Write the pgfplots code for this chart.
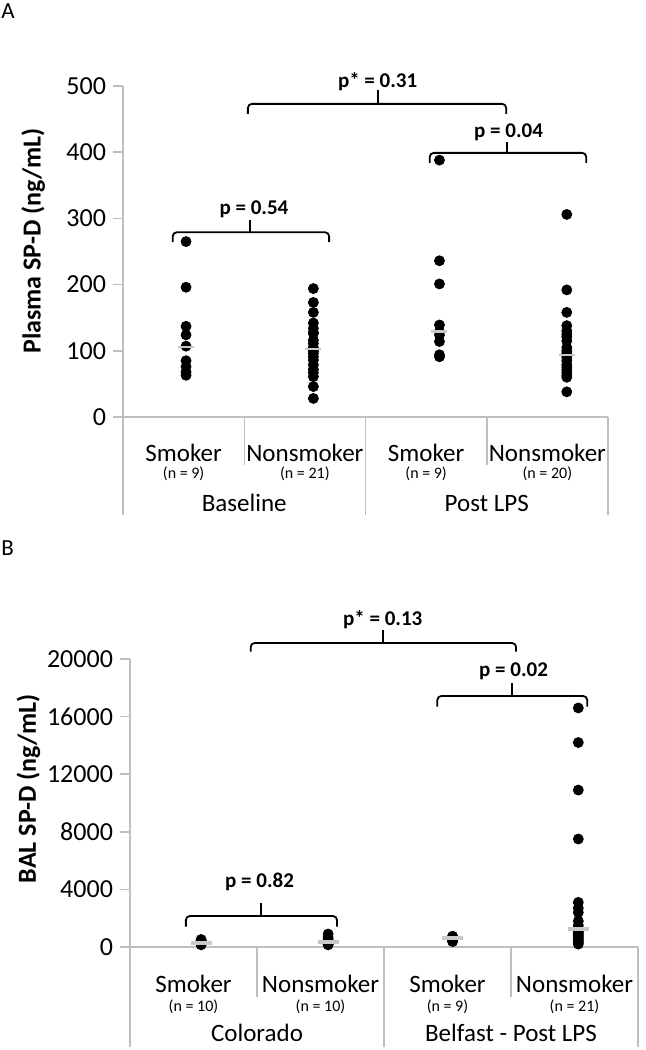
\documentclass[border=0pt]{standalone}
\usepackage{fontspec}
\setmainfont{Carlito}
\usepackage{pgfplots}
\pgfplotsset{compat=1.18}
\definecolor{axgray}{RGB}{191,191,191}
\definecolor{medgray}{RGB}{200,200,200}
\pgfplotsset{
  panel/.style={
    scale only axis, clip=false,
    axis x line=none, axis y line*=left,
    y axis line style={axgray, line width=0.75pt},
    xtick=\empty,
    tick style={axgray, line width=0.75pt},
    major tick length=5pt, tick align=outside,
    yticklabel style={font=\fontsize{13}{15}\selectfont, text=black},
    /pgf/number format/assume math mode=true,
    scaled y ticks=false,
    /pgf/number format/1000 sep={},
  },
  dots/.style={only marks, mark=*, mark size=2.5pt, black},
}
\newcommand{\catfont}{\fontsize{12.5}{14}\selectfont}
\newcommand{\nfont}{\fontsize{8}{9}\selectfont}
\newcommand{\pfont}{\bfseries\fontsize{10.5}{12}\selectfont}
\begin{document}
\begin{tikzpicture}
\useasboundingbox (0pt,0pt) rectangle (323pt,525pt);
\node[anchor=north west, inner sep=0pt, font=\fontsize{11.5}{13}\selectfont] at (0.5pt,523.5pt) {A};
\node[anchor=north west, inner sep=0pt, font=\fontsize{11.5}{13}\selectfont] at (0.5pt,255pt) {B};

% ---------------- Panel A ----------------
\begin{axis}[panel,
  at={(61.5pt,316.5pt)}, anchor=south west,
  width=242.5pt, height=165.5pt,
  xmin=0, xmax=4, ymin=0, ymax=500,
  ytick={0,100,...,500},
]
\draw[axgray, line width=0.75pt] (axis cs:0,0) -- (axis cs:4,0);
\draw[axgray, line width=0.75pt] (axis cs:0,0) -- (axis cs:0,-148);
\draw[axgray, line width=0.75pt] (axis cs:1,0) -- (axis cs:1,-72.5);
\draw[axgray, line width=0.75pt] (axis cs:2,0) -- (axis cs:2,-148);
\draw[axgray, line width=0.75pt] (axis cs:3,0) -- (axis cs:3,-72.5);
\draw[axgray, line width=0.75pt] (axis cs:4,0) -- (axis cs:4,-148);

\node[font=\catfont] at (axis cs:0.5,-54) {Smoker};
\node[font=\catfont] at (axis cs:1.5,-54) {Nonsmoker};
\node[font=\catfont] at (axis cs:2.5,-54) {Smoker};
\node[font=\catfont] at (axis cs:3.5,-54) {Nonsmoker};
\node[font=\nfont] at (axis cs:0.5,-85) {(n = 9)};
\node[font=\nfont] at (axis cs:1.5,-85) {(n = 21)};
\node[font=\nfont] at (axis cs:2.5,-85) {(n = 9)};
\node[font=\nfont] at (axis cs:3.5,-85) {(n = 20)};
\node[font=\catfont] at (axis cs:1,-130) {Baseline};
\node[font=\catfont] at (axis cs:3,-130) {Post LPS};

\node[rotate=90, font=\bfseries\fontsize{13}{15}\selectfont] at (axis cs:-0.74,266) {Plasma SP-D (ng/mL)};

\addplot[dots] coordinates {(0.52,265)(0.52,196)(0.52,137)(0.52,124)(0.52,107)(0.52,85)(0.52,76)(0.52,68)(0.52,63)};
\addplot[dots] coordinates {(1.57,194)(1.57,173)(1.57,158)(1.57,142)(1.57,134)(1.57,128)(1.57,126)(1.57,116)(1.57,111)(1.57,105)(1.57,103)(1.57,99)(1.57,96)(1.57,91)(1.57,86)(1.57,79)(1.57,72)(1.57,67)(1.57,61)(1.57,46)(1.57,28)};
\addplot[dots] coordinates {(2.61,388)(2.61,236)(2.61,201)(2.61,139)(2.61,129)(2.61,124)(2.61,114)(2.61,94)(2.61,91)};
\addplot[dots] coordinates {(3.66,306)(3.66,192)(3.66,158)(3.66,138)(3.66,130)(3.66,125)(3.66,121)(3.66,115)(3.66,105)(3.66,100)(3.66,96)(3.66,90)(3.66,85)(3.66,79)(3.66,75)(3.66,71)(3.66,67)(3.66,63)(3.66,60)(3.66,38)};
\addplot[only marks, mark=-, mark size=4pt, mark options={medgray, line width=1.2pt}] coordinates {(0.52,106)(1.57,103)(2.61,129)(3.66,94)};

\draw[line width=0.9pt, rounded corners=2pt] (axis cs:0.41,264) |- (axis cs:1.05,279) -| (axis cs:1.70,264);
\draw[line width=0.9pt] (axis cs:1.05,279) -- (axis cs:1.05,298);
\node[font=\pfont] at (axis cs:1.08,314) {p = 0.54};

\draw[line width=0.9pt, rounded corners=2pt] (axis cs:2.53,384) |- (axis cs:3.17,399) -| (axis cs:3.82,384);
\draw[line width=0.9pt] (axis cs:3.17,399) -- (axis cs:3.17,415);
\node[font=\pfont] at (axis cs:3.18,430) {p = 0.04};

\draw[line width=0.9pt, rounded corners=2pt] (axis cs:1.03,458) |- (axis cs:2.10,473) -| (axis cs:3.16,458);
\draw[line width=0.9pt] (axis cs:2.10,473) -- (axis cs:2.10,494);
\node[font=\pfont] at (axis cs:2.10,507) {p* = 0.31};
\end{axis}

% ---------------- Panel B ----------------
\begin{axis}[panel,
  at={(65pt,51.5pt)}, anchor=south west,
  width=254pt, height=144pt,
  xmin=0, xmax=4, ymin=0, ymax=20000,
  ytick={0,4000,...,20000},
]
\draw[axgray, line width=0.75pt] (axis cs:0,0) -- (axis cs:4,0);
\draw[axgray, line width=0.75pt] (axis cs:0,0) -- (axis cs:0,-6920);
\draw[axgray, line width=0.75pt] (axis cs:1,0) -- (axis cs:1,-3440);
\draw[axgray, line width=0.75pt] (axis cs:2,0) -- (axis cs:2,-6920);
\draw[axgray, line width=0.75pt] (axis cs:3,0) -- (axis cs:3,-3440);
\draw[axgray, line width=0.75pt] (axis cs:4,0) -- (axis cs:4,-6920);

\node[font=\catfont] at (axis cs:0.5,-2560) {Smoker};
\node[font=\catfont] at (axis cs:1.5,-2560) {Nonsmoker};
\node[font=\catfont] at (axis cs:2.5,-2560) {Smoker};
\node[font=\catfont] at (axis cs:3.5,-2560) {Nonsmoker};
\node[font=\nfont] at (axis cs:0.5,-4130) {(n = 10)};
\node[font=\nfont] at (axis cs:1.5,-4130) {(n = 10)};
\node[font=\nfont] at (axis cs:2.5,-4130) {(n = 9)};
\node[font=\nfont] at (axis cs:3.5,-4130) {(n = 21)};
\node[font=\catfont] at (axis cs:1,-5950) {Colorado};
\node[font=\catfont] at (axis cs:3,-5950) {Belfast - Post LPS};

\node[rotate=90, font=\bfseries\fontsize{13}{15}\selectfont] at (axis cs:-0.80,11000) {BAL SP-D (ng/mL)};

\addplot[dots] coordinates {(0.56,520)(0.56,450)(0.56,400)(0.56,350)(0.56,310)(0.56,280)(0.56,250)(0.56,220)(0.56,190)(0.56,150)};
\addplot[dots] coordinates {(1.56,900)(1.56,650)(1.56,500)(1.56,420)(1.56,380)(1.56,350)(1.56,300)(1.56,250)(1.56,200)(1.56,150)};
\addplot[dots] coordinates {(2.54,750)(2.54,700)(2.54,650)(2.54,620)(2.54,600)(2.54,550)(2.54,480)(2.54,420)(2.54,380)};
\addplot[dots] coordinates {(3.53,16600)(3.53,14200)(3.53,10900)(3.53,7500)(3.53,3100)(3.53,2700)(3.53,2400)(3.53,1800)(3.53,1500)(3.53,1300)(3.53,1250)(3.53,1100)(3.53,1000)(3.53,900)(3.53,800)(3.53,700)(3.53,600)(3.53,500)(3.53,400)(3.53,300)(3.53,200)};
\addplot[only marks, mark=-, mark size=5.2pt, mark options={medgray, line width=2pt}] coordinates {(0.56,290)(1.56,365)(2.54,600)(3.53,1250)};

\draw[line width=0.9pt, rounded corners=2pt] (axis cs:0.44,1410) |- (axis cs:1.03,2150) -| (axis cs:1.63,1410);
\draw[line width=0.9pt] (axis cs:1.03,2150) -- (axis cs:1.03,3055);
\node[font=\pfont] at (axis cs:1.02,4535) {p = 0.82};

\draw[line width=0.9pt, rounded corners=2pt] (axis cs:2.42,16690) |- (axis cs:3.01,17430) -| (axis cs:3.60,16690);
\draw[line width=0.9pt] (axis cs:3.01,17430) -- (axis cs:3.01,18330);
\node[font=\pfont] at (axis cs:3.02,19120) {p = 0.02};

\draw[line width=0.9pt, rounded corners=2pt] (axis cs:0.95,20510) |- (axis cs:1.99,21110) -| (axis cs:3.04,20510);
\draw[line width=0.9pt] (axis cs:1.99,21110) -- (axis cs:1.99,22010);
\node[font=\pfont] at (axis cs:1.99,22710) {p* = 0.13};
\end{axis}
\end{tikzpicture}
\end{document}
